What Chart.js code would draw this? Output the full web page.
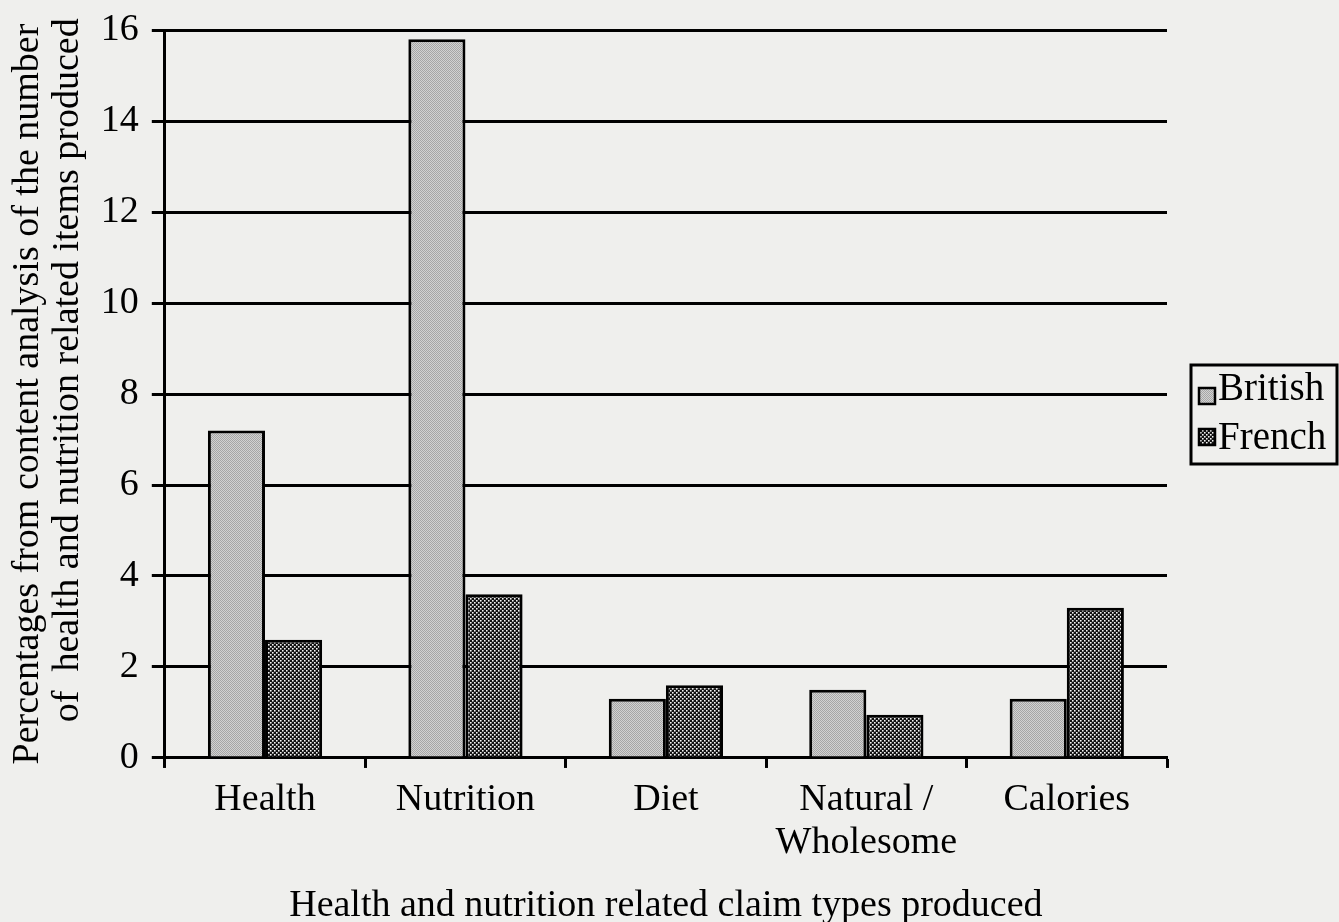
<!DOCTYPE html>
<html>
<head>
<meta charset="utf-8">
<script src="https://cdn.jsdelivr.net/npm/chart.js@4/dist/chart.umd.min.js"></script>
<style>
  html, body { margin: 0; padding: 0; background: #efefed; }
  #wrap { width: 1339px; height: 922px; }
</style>
</head>
<body>
<div id="wrap"><canvas id="claims"></canvas></div>
<script>
const categories = ['Health', 'Nutrition', 'Diet', ['Natural /', 'Wholesome'], 'Calories'];
const seriesNames = ['British', 'French'];
const britishValues = [7.2, 15.8, 1.3, 1.5, 1.3];
const frenchValues = [2.6, 3.6, 1.6, 0.95, 3.3];
const yTicks = [0, 2, 4, 6, 8, 10, 12, 14, 16];

const serif = '"Liberation Serif", "Times New Roman", serif';

// fine grey stipple for the British bars
function stipple() {
  const c = document.createElement('canvas');
  c.width = 2; c.height = 2;
  const g = c.getContext('2d');
  g.fillStyle = '#d2d2d2';
  g.fillRect(0, 0, 2, 2);
  g.fillStyle = '#a6a6a6';
  g.fillRect(0, 0, 1, 1);
  g.fillRect(1, 1, 1, 1);
  return g.createPattern(c, 'repeat');
}

// black check with small white dots for the French bars
function dots() {
  const c = document.createElement('canvas');
  c.width = 4; c.height = 4;
  const g = c.getContext('2d');
  g.fillStyle = '#111';
  g.fillRect(0, 0, 4, 4);
  [[0, 0], [2, 2]].forEach(([x, y]) => {
    g.fillStyle = '#f4f4f4';
    g.fillRect(x, y, 1, 1);
    g.fillStyle = '#9a9a9a';
    g.fillRect(x + 1, y, 1, 1);
    g.fillRect(x, y + 1, 1, 1);
    g.fillStyle = '#555';
    g.fillRect(x + 1, y + 1, 1, 1);
  });
  return g.createPattern(c, 'repeat');
}

const fills = [stipple(), dots()];

// boxed legend to the right of the plot
const boxLegend = {
  id: 'boxLegend',
  afterDraw(chart) {
    const ctx = chart.ctx;
    const x = 1191, y = 365, w = 146, h = 99;
    ctx.save();
    ctx.strokeStyle = '#000';
    ctx.lineWidth = 3;
    ctx.strokeRect(x, y, w, h);
    ctx.font = '39px ' + serif;
    ctx.textBaseline = 'alphabetic';
    chart.data.datasets.forEach((ds, i) => {
      const top = y + 23 + i * 41;
      ctx.fillStyle = ds.backgroundColor;
      ctx.fillRect(x + 8, top, 16, 16);
      ctx.lineWidth = 2.5;
      ctx.strokeRect(x + 8, top, 16, 16);
      ctx.fillStyle = '#000';
      ctx.fillText(ds.label, x + 27, y + 35 + i * 49);
    });
    ctx.restore();
  }
};

new Chart(document.getElementById('claims'), {
  type: 'bar',
  data: {
    labels: categories,
    datasets: [
      { label: seriesNames[0], data: britishValues, backgroundColor: fills[0] },
      { label: seriesNames[1], data: frenchValues, backgroundColor: fills[1] }
    ]
  },
  options: {
    responsive: true,
    maintainAspectRatio: false,
    animation: false,
    events: [],
    layout: { padding: { left: 0, right: 172, top: 10, bottom: 0 } },
    datasets: {
      bar: {
        categoryPercentage: 0.57,
        barPercentage: 1.0,
        borderColor: '#000',
        borderWidth: 3
      }
    },
    plugins: {
      legend: { display: false },
      tooltip: { enabled: false }
    },
    scales: {
      x: {
        offset: true,
        grid: {
          offset: true,
          drawOnChartArea: false,
          drawTicks: true,
          tickLength: 10,
          tickWidth: 3,
          tickColor: '#000',
          color: '#000'
        },
        border: { color: '#000', width: 3 },
        ticks: { color: '#000', font: { family: serif, size: 38, lineHeight: 1.13 }, padding: 11, maxRotation: 0 },
        title: {
          display: true,
          text: 'Health and nutrition related claim types produced',
          color: '#000',
          font: { family: serif, size: 38, lineHeight: 0.82 },
          padding: { top: 15, bottom: 0 }
        }
      },
      y: {
        min: 0,
        max: 16,
        afterBuildTicks(axis) { axis.ticks = yTicks.map(v => ({ value: v })); },
        grid: {
          color: '#000',
          lineWidth: 3,
          tickLength: 13
        },
        border: { color: '#000', width: 3 },
        ticks: { color: '#000', font: { family: serif, size: 38, lineHeight: 0.9 }, padding: 13 },
        title: {
          display: true,
          text: ['Percentages from content analysis of the number', '     of  health and nutrition related items produced'],
          color: '#000',
          font: { family: serif, size: 38, lineHeight: 1.05 },
          padding: { top: 8, bottom: 0 }
        }
      }
    }
  },
  plugins: [boxLegend]
});
</script>
</body>
</html>
